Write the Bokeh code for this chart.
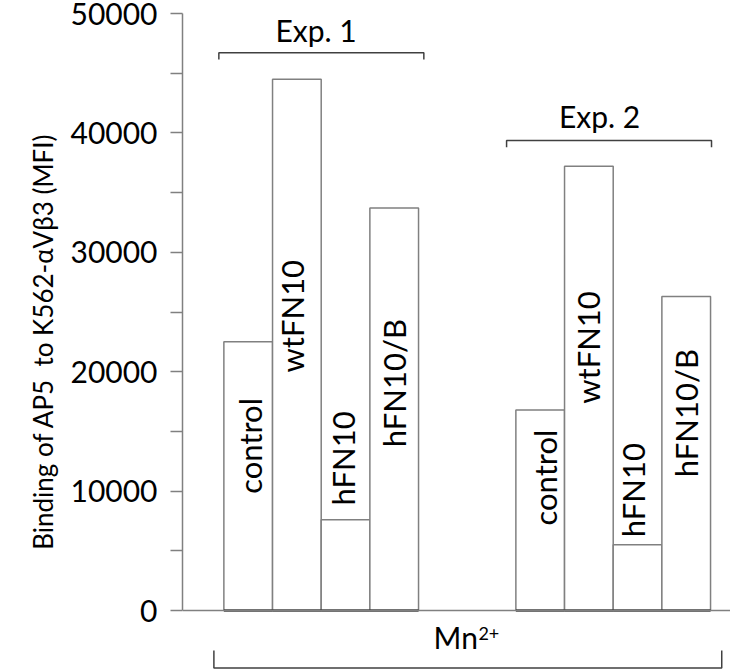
import math
from bokeh.plotting import figure
from bokeh.models import ColumnDataSource, FixedTicker, Range1d, LinearAxis
from bokeh.core.properties import value
from bokeh.embed import file_html
from bokeh.resources import INLINE

# ---------------- data ----------------
categories = ["control", "wtFN10", "hFN10", "hFN10/B"]
exp1_values = [22500, 44500, 7600, 33700]
exp2_values = [16800, 37200, 5500, 26300]
group_names = ["Exp. 1", "Exp. 2"]
y_ticks = [0, 5000, 10000, 15000, 20000, 25000, 30000, 35000, 40000, 45000, 50000]
y_tick_labels = ["0", "", "10000", "", "20000", "", "30000", "", "40000", "", "50000"]
condition_label = "Mn"
condition_sup = "2+"
y_title = "Binding of AP5\u00a0 to K562-\u03b1V\u03b23 (MFI)"

# label placement (start of rotated text, in data units) and pixel nudges
exp1_label_y = [9770, 19930, 8790, 13680]
exp2_label_y = [7120, 17310, 6140, 11160]
exp1_label_dx = [1.7, -5, -2.2, 0]
exp2_label_dx = [4.7, -1, -4.2, 0]

FONT = "Lato"
GREY = "#808080"

group_starts = [0, 6]
xs, tops, lab_y, lab_dx, names = [], [], [], [], []
for g, vals, ly, ldx in zip(group_starts, [exp1_values, exp2_values],
                            [exp1_label_y, exp2_label_y], [exp1_label_dx, exp2_label_dx]):
    for i, (c, v) in enumerate(zip(categories, vals)):
        xs.append(g + i + 0.5)
        tops.append(v)
        lab_y.append(ly[i])
        lab_dx.append(ldx[i])
        names.append(c)

src = ColumnDataSource(dict(x=xs, top=tops, ly=lab_y, dx=lab_dx, name=names,
                            x0=[x - 0.5 for x in xs], x1=[x + 0.5 for x in xs],
                            zero=[0] * len(xs)))

p = figure(width=730, height=669, output_backend="svg", toolbar_location=None,
           x_range=Range1d(-0.85, 10.41), y_range=Range1d(-4941, 50000),
           min_border_left=182, min_border_right=0, min_border_top=13, min_border_bottom=0)
p.outline_line_color = None
p.grid.visible = False
p.background_fill_color = "white"
p.border_fill_color = "white"

# bars
p.vbar(x="x", top="top", bottom=0, width=1.0, source=src,
       fill_color="white", line_color=GREY, line_width=1.5)
p.segment(x0="x0", y0="zero", x1="x1", y1="zero", source=src,
          line_color="black", line_width=2)

# rotated bar labels
p.text(x="x", y="ly", text="name", source=src, angle=math.pi / 2,
       x_offset="dx", text_align="left", text_baseline="middle",
       text_font=value(FONT), text_font_size="31px", text_color="black")

# y axis
ya = p.yaxis[0]
ya.ticker = FixedTicker(ticks=y_ticks)
ya.major_label_overrides = {t: l for t, l in zip(y_ticks, y_tick_labels)}
ya.bounds = (0, 50000)
ya.axis_line_color = GREY
ya.axis_line_width = 1.5
ya.major_tick_line_color = GREY
ya.major_tick_line_width = 1.5
ya.major_tick_out = 12
ya.major_tick_in = 0
ya.minor_tick_out = 0
ya.minor_tick_in = 0
ya.major_label_standoff = 13
ya.major_label_text_font = FONT
ya.major_label_text_font_size = "30px"
ya.major_label_text_color = "black"

# second (invisible) left axis carrying the title, centred like the reference
ta = LinearAxis(ticker=FixedTicker(ticks=[]), bounds=(-2770, 50000),
                axis_line_color=None, major_tick_out=0, major_tick_in=0,
                minor_tick_out=0, minor_tick_in=0,
                axis_label=y_title, axis_label_standoff=9,
                axis_label_text_font=FONT, axis_label_text_font_size="26px",
                axis_label_text_font_style="normal", axis_label_text_color="black")
p.add_layout(ta, "left")

# x axis as baseline at 0
xa = p.xaxis[0]
xa.fixed_location = 0
xa.ticker = FixedTicker(ticks=[])
xa.axis_line_color = GREY
xa.axis_line_width = 1.5
xa.major_tick_out = 0
xa.major_tick_in = 0
xa.minor_tick_out = 0
xa.minor_tick_in = 0

# group brackets
brackets = [(-0.103, 4.109, 46710, 46150), (5.809, 10.02, 39363, 38800)]
exp_text = [(1.894, 48580), (7.72, 41450)]
for (bx0, bx1, by, bend), (tx, ty), nm in zip(brackets, exp_text, group_names):
    p.line([bx0, bx0, bx1, bx1], [bend, by, by, bend], line_color="#404040", line_width=1.5)
    p.text(x=[tx], y=[ty], text=[nm], text_align="center", text_baseline="middle",
           text_font=value(FONT), text_font_size="30px", text_color="black")

# condition bracket
p.line([-0.205, -0.205, 10.23, 10.23], [-3350, -4816, -4816, -3350],
       line_color="#404040", line_width=1.5)
p.text(x=[4.309], y=[-2235], text=[condition_label], text_align="left",
       text_baseline="middle", text_font=value(FONT), text_font_size="30px",
       text_color="black")
p.text(x=[5.23], y=[-1930], text=[condition_sup], text_align="left",
       text_baseline="middle", text_font=value(FONT), text_font_size="18px",
       text_color="black")

open("out.html", "w").write(file_html(p, INLINE))
